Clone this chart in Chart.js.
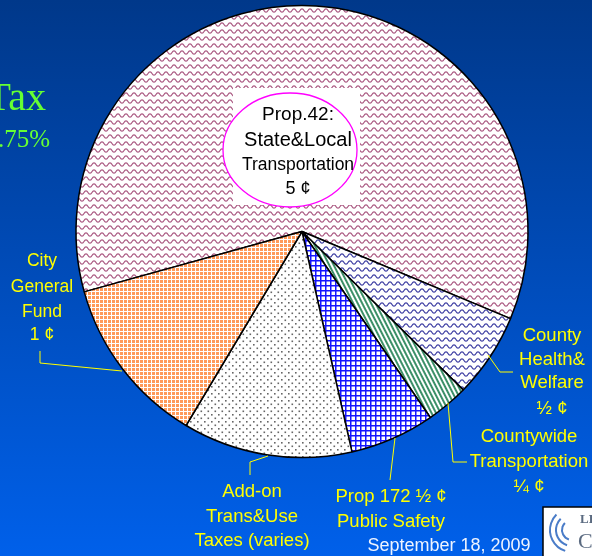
<!DOCTYPE html>
<html>
<head>
<meta charset="utf-8">
<script src="https://cdn.jsdelivr.net/npm/chart.js@4.4.1/dist/chart.umd.min.js"></script>
<style>
  html, body { margin: 0; padding: 0; overflow: hidden; background: #0048b0; }
  canvas { display: block; }
</style>
</head>
<body>
<canvas id="pie" width="592" height="556"></canvas>
<script>
// slices, clockwise from the big Prop.42 slice
const sliceNames = [
  "Prop.42: State&Local Transportation",
  "County Health& Welfare",
  "Countywide Transportation",
  "Prop 172 Public Safety",
  "Add-on Trans&Use Taxes (varies)",
  "City General Fund"
];
const sliceCents = [5, 0.5, 0.25, 0.5, 1, 1];

// label text for each slice (lines)
const labelProp42 = ["Prop.42:", "State&Local", "Transportation", "5 \u00A2"];
const labelCounty = ["County", "Health&", "Welfare", "\u00BD \u00A2"];
const labelCountywide = ["Countywide", "Transportation", "\u00BC \u00A2"];
const labelProp172 = ["Prop 172 \u00BD \u00A2", "Public Safety"];
const labelAddon = ["Add-on", "Trans&Use", "Taxes (varies)"];
const labelCity = ["City", "General", "Fund", "1 \u00A2"];
const titleBits = ["Tax", ".75%"];
const dateText = "September 18, 2009";

const canvas = document.getElementById("pie");
const ctx = canvas.getContext("2d");

//small tiles for the hatch fills
function tile(w, h, drawFn) {
  const c = document.createElement("canvas");
  c.width = w; c.height = h;
  const t = c.getContext("2d");
  t.fillStyle = "#fff";
  t.fillRect(0, 0, w, h);
  drawFn(t);
  return ctx.createPattern(c, "repeat");
}

function wave(color) {
  return tile(8, 7, (t) => {
    t.strokeStyle = color;
    t.lineWidth = 1.2;
    t.beginPath();
    for (let i = -1; i <= 9; i += 0.5) {
      const y = 3.5 + 1.7 * Math.sin((i / 8) * 2 * Math.PI);
      if (i === -1) t.moveTo(i, y); else t.lineTo(i, y);
    }
    t.stroke();
  });
}

const stripes = tile(4, 4, (t) => {
  t.fillStyle = "#3c9068";
  t.fillRect(0, 0, 2, 4);
});
stripes.setTransform(new DOMMatrix().rotate(-27));

const grid = tile(5, 5, (t) => {
  t.fillStyle = "#1515ff";
  t.fillRect(0, 0, 5, 1.5);
  t.fillRect(0, 0, 1.5, 5);
});

const dots = tile(7, 7, (t) => {
  t.fillStyle = "#666";
  t.fillRect(1, 1, 1.6, 1.6);
  t.fillRect(4.5, 4.5, 1.6, 1.6);
});

const orange = tile(4, 4, (t) => {
  t.fillStyle = "#ff9a5a";
  t.fillRect(0, 0, 3, 3);
});

const fills = [wave("#a8557f"), wave("#3a3aa0"), stripes, grid, dots, orange];

//background gradient + all the texts
const slidePlugin = {
  id: "slide",
  beforeDraw(chart) {
    const c = chart.ctx;
    const g = c.createLinearGradient(0, 0, 0, 556);
    g.addColorStop(0, "#00388a");
    g.addColorStop(1, "#0060ea");
    c.save();
    c.fillStyle = g;
    c.fillRect(0, 0, 592, 556);
    c.restore();
  },
  afterDraw(chart) {
    const c = chart.ctx;
    c.save();

    // title, cut at the left edge
    c.fillStyle = "#66ff33";
    c.textAlign = "right";
    c.textBaseline = "alphabetic";
    c.font = "40px 'Liberation Serif'";
    c.fillText(titleBits[0], 46, 110);
    c.font = "25px 'Liberation Serif'";
    c.fillText(titleBits[1], 50, 147);

    // white box + ellipse for Prop.42
    c.fillStyle = "#fff";
    c.fillRect(233, 88, 127, 117);
    c.beginPath();
    c.ellipse(290, 150, 67, 57, 0, 0, Math.PI * 2);
    c.fill();
    c.strokeStyle = "#ff00ff";
    c.lineWidth = 1.3;
    c.stroke();
    c.fillStyle = "#000";
    c.textAlign = "center";
    c.textBaseline = "middle";
    const p42Sizes = [19, 20, 17.5, 18];
    const p42Y = [115, 140, 165, 189];
    labelProp42.forEach((s, i) => {
      c.font = p42Sizes[i] + "px 'Liberation Sans'";
      c.fillText(s, 298, p42Y[i]);
    });

    // leader lines
    c.strokeStyle = "#ffff00";
    c.lineWidth = 1;
    const leaders = [
      [[40, 351], [40, 363], [122, 371]],
      [[488, 355], [500, 372], [513, 372]],
      [[448, 403], [453, 462], [467, 462]],
      [[395, 438], [390, 480]],
      [[268, 456], [250, 462], [250, 475]]
    ];
    leaders.forEach((pts) => {
      c.beginPath();
      pts.forEach((p, i) => (i ? c.lineTo(p[0], p[1]) : c.moveTo(p[0], p[1])));
      c.stroke();
    });

    // yellow labels
    c.fillStyle = "#ffff00";
    function lines(arr, x, ys, size) {
      c.font = size + "px 'Liberation Sans'";
      arr.forEach((s, i) => c.fillText(s, x, ys[i]));
    }
    lines(labelCity, 42, [261, 287, 312, 335], 17.5);
    lines(labelCounty, 552, [336, 360, 383, 409], 18.5);
    lines(labelCountywide, 529, [437, 462, 487], 18.5);
    lines(labelProp172, 391, [497, 522], 18.5);
    lines(labelAddon, 252, [492, 517, 541], 18.5);

    c.fillStyle = "#eef4ff";
    c.font = "18px 'Liberation Sans'";
    c.fillText(dateText, 449, 546);

    // logo corner
    c.fillStyle = "#fff";
    c.fillRect(543, 507, 60, 60);
    c.strokeStyle = "#000";
    c.lineWidth = 1.5;
    c.strokeRect(543, 507, 60, 60);
    c.strokeStyle = "#4a7cc8";
    c.lineWidth = 2;
    [10, 16, 22].forEach((r) => {
      c.beginPath();
      c.arc(572, 530, r, Math.PI * 0.6, Math.PI * 1.25);
      c.stroke();
    });
    c.fillStyle = "#5a6a80";
    c.textAlign = "left";
    c.font = "bold 13px 'Liberation Serif'";
    c.fillText("LE", 580, 520);
    c.font = "22px 'Liberation Serif'";
    c.fillText("C", 578, 542);
    c.restore();
  }
};

new Chart(canvas, {
  type: "pie",
  data: {
    labels: sliceNames,
    datasets: [{
      data: sliceCents,
      backgroundColor: fills,
      borderColor: "#000",
      borderWidth: 1.5,
      hoverOffset: 0
    }]
  },
  options: {
    responsive: false,
    animation: false,
    rotation: 254.5,
    radius: 226,
    layout: { padding: { left: 76, right: 64, top: 5, bottom: 98 } },
    plugins: {
      legend: { display: false },
      tooltip: { enabled: false }
    },
    events: []
  },
  plugins: [slidePlugin]
});
</script>
</body>
</html>
